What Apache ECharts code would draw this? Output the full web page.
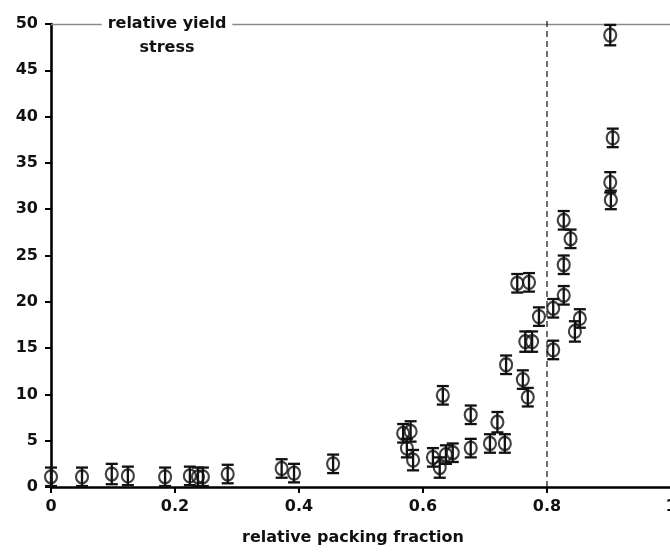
<!DOCTYPE html>
<html><head><meta charset="utf-8">
<script src="https://cdn.jsdelivr.net/npm/echarts@6/dist/echarts.min.js"></script>
<style>html,body{margin:0;padding:0;background:#fff}#c{width:670px;height:552px}</style>
</head><body><div id="c"></div>
<script>
// relative packing fraction (x) and relative yield stress (y) with error half-widths
var packing = [0, 0.05, 0.098, 0.124, 0.184, 0.224, 0.237, 0.245, 0.285, 0.372, 0.392, 0.455,
  0.568, 0.58, 0.574, 0.584, 0.632, 0.616, 0.627, 0.637, 0.648, 0.677, 0.677, 0.708, 0.72, 0.732, 0.761, 0.769,
  0.734, 0.752, 0.771, 0.765, 0.776, 0.787, 0.81, 0.81,
  0.827, 0.838, 0.827, 0.827, 0.853, 0.845, 0.903, 0.902, 0.906, 0.902];
var yieldStress = [1.1, 1.1, 1.4, 1.2, 1.1, 1.2, 1.1, 1.1, 1.4, 2.0, 1.5, 2.5,
  5.8, 6.0, 4.2, 2.9, 9.9, 3.2, 2.1, 3.5, 3.7, 7.8, 4.2, 4.7, 7.0, 4.7, 11.6, 9.7,
  13.2, 22.0, 22.1, 15.7, 15.7, 18.4, 19.3, 14.8,
  28.8, 26.8, 24.0, 20.7, 18.2, 16.8, 31.0, 48.8, 37.7, 32.9];
var errHalf = [1.0, 1.0, 1.1, 1.0, 1.0, 1.0, 1.0, 1.0, 1.0, 1.0, 1.0, 1.0,
  1.0, 1.1, 1.0, 1.1, 1.0, 1.0, 1.1, 1.0, 1.0, 1.0, 1.0, 1.0, 1.1, 1.0, 1.0, 1.0,
  1.0, 1.0, 1.0, 1.1, 1.1, 1.0, 1.0, 1.0,
  1.0, 1.0, 1.0, 1.0, 1.0, 1.1, 1.0, 1.1, 1.0, 1.1];
var xTickLabels = ['0', '0.2', '0.4', '0.6', '0.8', '1'];
var yTickLabels = ['0', '5', '10', '15', '20', '25', '30', '35', '40', '45', '50'];
var thresholdLine = [[0.8, 0], [0.8, 50.75]];

var FONT = 'DejaVu Sans';
var points = packing.map(function (x, i) { return [x, yieldStress[i]]; });
var errData = packing.map(function (x, i) { return [x, yieldStress[i] - errHalf[i], yieldStress[i] + errHalf[i]]; });

var chart = echarts.init(document.getElementById('c'), null, { renderer: 'canvas' });
chart.setOption({
  animation: false,
  backgroundColor: '#fff',
  grid: { left: 51, right: -1, top: 24, bottom: 65, containLabel: false, outerBoundsMode: 'none' },
  xAxis: [{
    type: 'value', min: 0, max: 1, interval: 0.2,
    axisLine: { onZero: false, lineStyle: { color: '#000', width: 2.6 } },
    axisTick: { length: 6, lineStyle: { color: '#000', width: 2 } },
    axisLabel: {
      margin: 12, fontSize: 16, fontWeight: 'bold', fontFamily: FONT, color: '#111',
      formatter: function (v) { return xTickLabels[Math.round(v / 0.2)]; }
    },
    splitLine: { show: false },
    name: 'relative packing fraction', nameLocation: 'middle', nameGap: 43,
    nameTextStyle: { fontSize: 16, fontWeight: 'bold', fontFamily: FONT, color: '#111', padding: [0, 16, 0, 0] }
  }, {
    type: 'value', min: 0, max: 1, position: 'top',
    axisLine: { onZero: false, lineStyle: { color: '#8a8a8a', width: 1.3 } },
    axisTick: { show: false }, axisLabel: { show: false }, splitLine: { show: false }
  }],
  yAxis: {
    type: 'value', min: 0, max: 50, interval: 5,
    axisLine: { onZero: false, lineStyle: { color: '#000', width: 2.6 } },
    axisTick: { length: 6, lineStyle: { color: '#000', width: 2 } },
    axisLabel: {
      margin: 13, fontSize: 16, fontWeight: 'bold', fontFamily: FONT, color: '#111',
      formatter: function (v) { return yTickLabels[Math.round(v / 5)]; }
    },
    splitLine: { show: false }
  },
  graphic: [{
    type: 'text', x: 167, y: 12, z: 100,
    style: {
      text: 'relative yield\nstress', align: 'center', verticalAlign: 'top',
      font: 'bold 16px "DejaVu Sans"', lineHeight: 24, fill: '#111',
      backgroundColor: '#fff', padding: [0, 6]
    }
  }],
  series: [{
    type: 'line', data: thresholdLine, clip: false, symbol: 'none', silent: true,
    lineStyle: { color: '#111', width: 1.2, type: [6, 4] }, z: 1
  }, {
    type: 'custom', data: errData, z: 3,
    renderItem: function (params, api) {
      var top = api.coord([api.value(0), api.value(2)]);
      var bot = api.coord([api.value(0), api.value(1)]);
      var w = 6;
      var st = { stroke: '#111', lineWidth: 2.3 };
      return { type: 'group', children: [
        { type: 'line', shape: { x1: top[0], y1: top[1], x2: bot[0], y2: bot[1] }, style: st },
        { type: 'line', shape: { x1: top[0] - w, y1: top[1], x2: top[0] + w, y2: top[1] }, style: st },
        { type: 'line', shape: { x1: bot[0] - w, y1: bot[1], x2: bot[0] + w, y2: bot[1] }, style: st }
      ] };
    }
  }, {
    type: 'scatter', data: points, symbol: 'circle', symbolSize: [12, 13], z: 4,
    itemStyle: { color: 'rgba(255,255,255,0)', borderColor: '#111', borderWidth: 2.2 }
  }]
});
</script></body></html>
